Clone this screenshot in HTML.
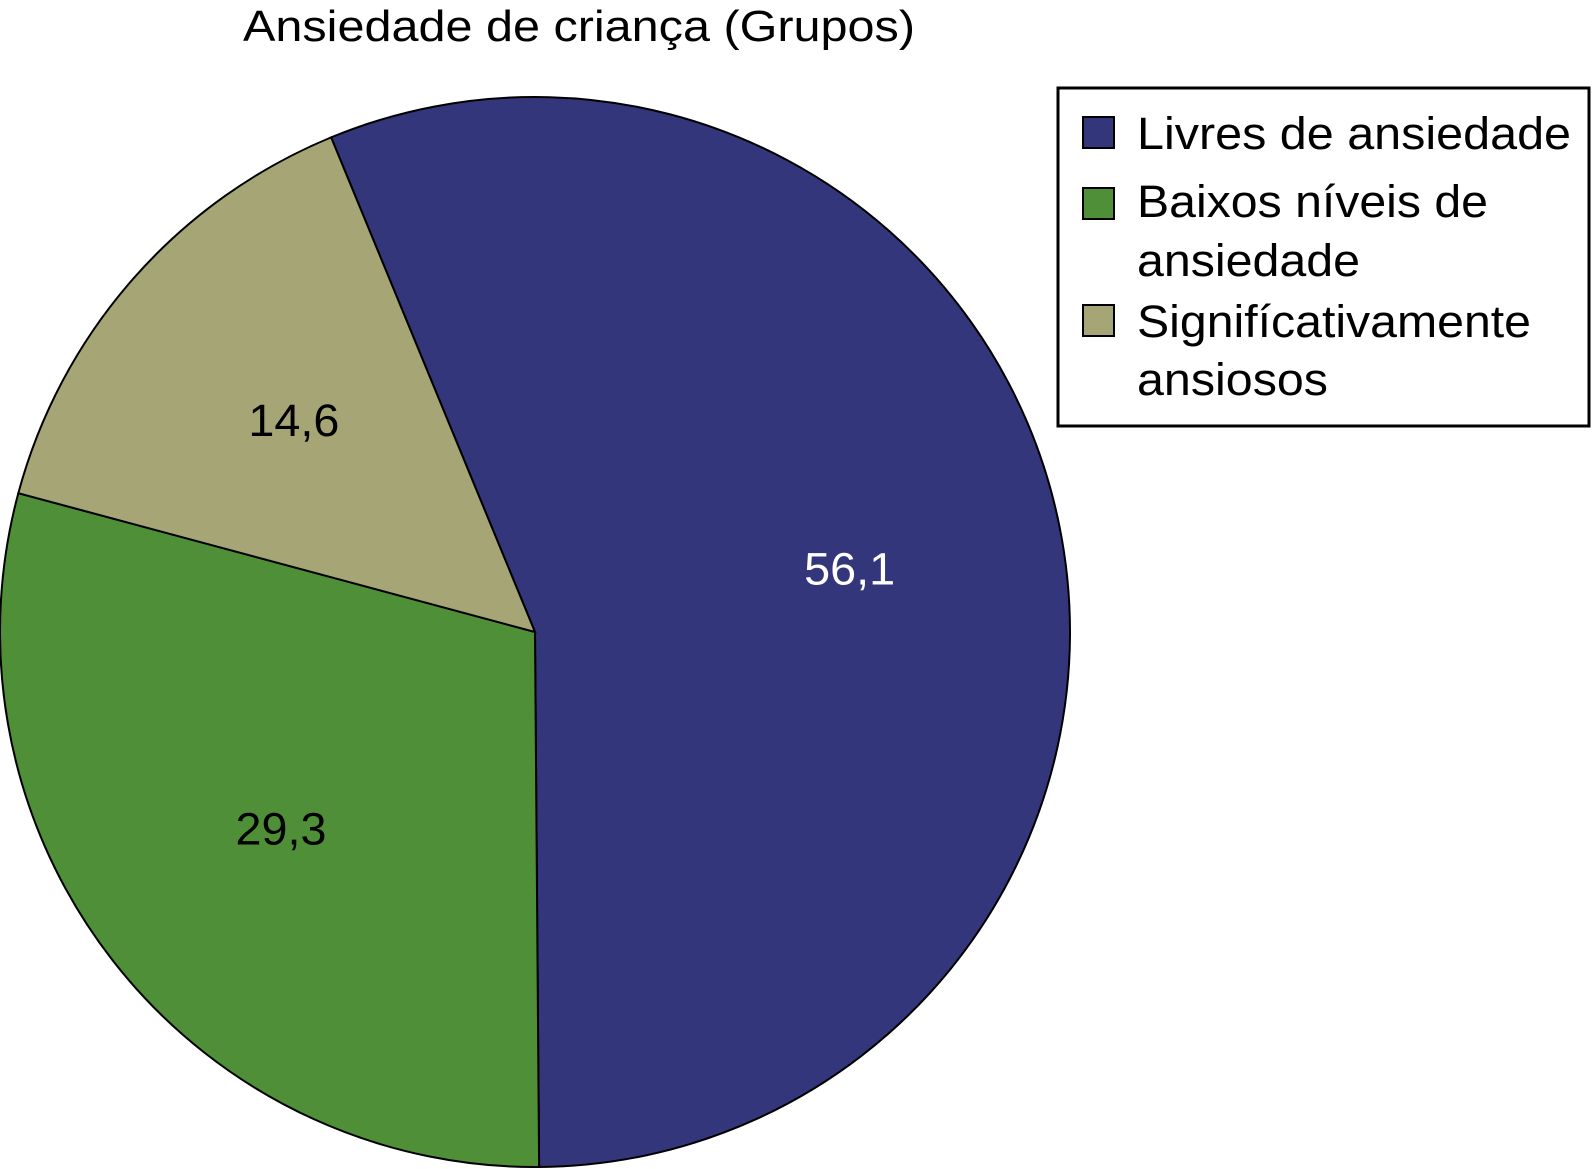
<!DOCTYPE html>
<html><head><meta charset="utf-8"><style>
html,body{margin:0;padding:0;background:#fff;width:1592px;height:1169px;overflow:hidden}
text{font-family:"Liberation Sans",Arial,sans-serif}
</style></head><body>
<svg id="chart" width="1592" height="1169" viewBox="0 0 1592 1169">
<text x="579" y="41" font-size="44" text-anchor="middle" textLength="672" lengthAdjust="spacingAndGlyphs" fill="#000">Ansiedade de criança (Grupos)</text>
<g id="slices"></g>
<g id="labels"></g>
<g>
<rect x="1058" y="88" width="531" height="338" fill="#fff" stroke="#000" stroke-width="3"/>
<rect x="1083" y="117" width="31" height="31" fill="#34367c" stroke="#000" stroke-width="2"/>
<text x="1137" y="149" font-size="45" textLength="434" lengthAdjust="spacingAndGlyphs">Livres de ansiedade</text>
<rect x="1083" y="188" width="31" height="31" fill="#4e8f37" stroke="#000" stroke-width="2"/>
<text x="1137" y="217" font-size="45" textLength="351" lengthAdjust="spacingAndGlyphs">Baixos níveis de</text>
<text x="1137" y="276" font-size="45" textLength="223" lengthAdjust="spacingAndGlyphs">ansiedade</text>
<rect x="1083" y="305" width="31" height="31" fill="#a6a575" stroke="#000" stroke-width="2"/>
<text x="1137" y="337" font-size="45" textLength="394" lengthAdjust="spacingAndGlyphs">Signifícativamente</text>
<text x="1137" y="395" font-size="45" textLength="191" lengthAdjust="spacingAndGlyphs">ansiosos</text>
</g>
</svg>
<script>
const categories = ["Livres de ansiedade", "Baixos níveis de ansiedade", "Significativamente ansiosos"];
const values = [56.1, 29.3, 14.6];
const valueLabels = ["56,1", "29,3", "14,6"];
const colors = ["#34367c", "#4e8f37", "#a6a575"];
const labelColors = ["#fff", "#000", "#000"];
const cx = 535, cy = 632, r = 535, startDeg = -22.4;
const ns = "http://www.w3.org/2000/svg";
const total = values.reduce((a,b)=>a+b,0);
function pt(deg, rad){const t=deg*Math.PI/180;return [cx+rad*Math.sin(t), cy-rad*Math.cos(t)];}
let a = startDeg;
const gS = document.getElementById('slices'), gL = document.getElementById('labels');
values.forEach((v,i)=>{
  const sweep = v/total*360;
  const p0 = pt(a,r), p1 = pt(a+sweep,r);
  const path = document.createElementNS(ns,'path');
  path.setAttribute('d',`M${cx},${cy} L${p0[0]},${p0[1]} A${r},${r} 0 ${sweep>180?1:0} 1 ${p1[0]},${p1[1]} Z`);
  path.setAttribute('fill',colors[i]);
  path.setAttribute('stroke','#000');
  path.setAttribute('stroke-width','2');
  
  
  gS.appendChild(path);
  const mid = a + sweep/2;
  const lp = pt(mid, r*0.6);
  const t = document.createElementNS(ns,'text');
  t.setAttribute('x',lp[0]); t.setAttribute('y',lp[1]+16);
  t.setAttribute('text-anchor','middle'); t.setAttribute('font-size','45');
  t.setAttribute('textLength','91'); t.setAttribute('lengthAdjust','spacingAndGlyphs');
  t.setAttribute('fill',labelColors[i]);
  t.textContent = valueLabels[i];
  
  
  gL.appendChild(t);
  a += sweep;
});
</script>
</body></html>
